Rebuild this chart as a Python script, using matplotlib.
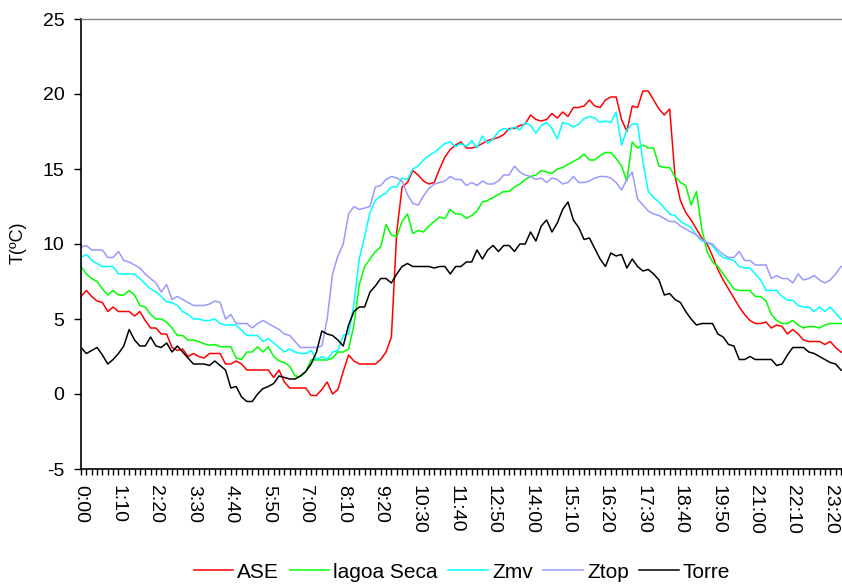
import numpy as np
import matplotlib
matplotlib.use("Agg")
import matplotlib.pyplot as plt
from matplotlib.ticker import FixedLocator, MultipleLocator

plt.rcParams['font.family'] = ['Liberation Sans', 'DejaVu Sans']

# ---- data (10-minute readings, 0:00 .. 23:50) ----
ase = [6.5, 6.9, 6.5, 6.2, 6.1, 5.5, 5.8, 5.5, 5.5, 5.5,
       5.2, 5.5, 4.9, 4.4, 4.4, 4.0, 4.0, 3.1, 2.9, 3.0,
       2.5, 2.7, 2.5, 2.4, 2.7, 2.7, 2.7, 2.0, 2.0, 2.2,
       2.0, 1.6, 1.6, 1.6, 1.6, 1.6, 1.1, 1.6, 0.8, 0.4,
       0.4, 0.4, 0.4, -0.1, -0.1, 0.3, 0.8, 0.0, 0.3, 1.5,
       2.6, 2.2, 2.0, 2.0, 2.0, 2.0, 2.3, 2.8, 3.8, 10.8,
       13.8, 14.1, 14.9, 14.6, 14.2, 14.0, 14.1, 15.0, 15.8, 16.3,
       16.6, 16.8, 16.4, 16.4, 16.5, 16.7, 16.9, 17.0, 17.1, 17.3,
       17.7, 17.7, 17.9, 18.0, 18.6, 18.3, 18.2, 18.3, 18.7, 18.4,
       18.8, 18.5, 19.1, 19.1, 19.2, 19.6, 19.2, 19.1, 19.6, 19.8,
       19.8, 18.3, 17.5, 19.2, 19.1, 20.2, 20.2, 19.6, 19.0, 18.6,
       19.0, 14.5, 12.9, 12.1, 11.6, 11.0, 10.4, 10.0, 9.2, 8.3,
       7.6, 7.0, 6.4, 5.8, 5.3, 4.9, 4.7, 4.7, 4.8, 4.4,
       4.6, 4.5, 4.0, 4.3, 4.0, 3.6, 3.5, 3.5, 3.5, 3.3,
       3.5, 3.1, 2.8, 2.7]

lagoa_seca = [8.5, 8.0, 7.7, 7.5, 7.0, 6.6, 6.9, 6.6, 6.6, 6.9,
              6.6, 5.9, 5.8, 5.3, 5.0, 5.0, 4.8, 4.4, 3.9, 3.9,
              3.6, 3.6, 3.5, 3.35, 3.25, 3.3, 3.15, 3.15, 3.15, 2.4,
              2.3, 2.8, 2.8, 3.15, 2.8, 3.15, 2.5, 2.2, 2.1, 1.85,
              1.2, 1.16, 1.5, 2.27, 2.27, 2.27, 2.27, 2.4, 2.8, 2.8,
              3.0, 4.6, 7.3, 8.5, 9.0, 9.5, 9.8, 11.3, 10.6, 10.5,
              11.5, 12.0, 10.7, 10.9, 10.8, 11.2, 11.5, 11.8, 11.7, 12.3,
              12.0, 12.0, 11.7, 11.9, 12.2, 12.8, 12.9, 13.1, 13.3, 13.5,
              13.5, 13.8, 14.0, 14.3, 14.5, 14.6, 14.9, 14.8, 14.7, 15.0,
              15.1, 15.3, 15.5, 15.7, 16.0, 15.6, 15.6, 15.9, 16.1, 16.1,
              15.7, 15.2, 14.2, 16.8, 16.4, 16.6, 16.4, 16.4, 15.2, 15.1,
              15.1, 14.5, 14.1, 13.9, 12.6, 13.5, 11.0, 9.5, 8.8, 8.5,
              8.0, 7.5, 7.0, 6.9, 6.9, 6.9, 6.5, 6.5, 6.2, 5.3,
              4.9, 4.7, 4.7, 4.9, 4.6, 4.4, 4.5, 4.5, 4.4, 4.6,
              4.7, 4.7, 4.7, 4.7]

zmv = [9.1, 9.3, 8.9, 8.7, 8.5, 8.5, 8.5, 8.0, 8.0, 8.0,
       8.0, 7.7, 7.35, 7.0, 6.8, 6.5, 6.13, 6.1, 5.9, 5.5,
       5.3, 5.0, 5.0, 4.9, 4.9, 5.0, 4.7, 4.6, 4.6, 4.6,
       4.25, 3.9, 3.9, 3.9, 3.5, 3.7, 3.4, 3.1, 2.8, 3.0,
       2.8, 2.7, 2.7, 2.9, 2.3, 2.5, 2.3, 2.8, 2.9, 3.9,
       4.0, 6.0, 9.0, 10.5, 12.1, 12.9, 13.2, 13.4, 13.8, 13.8,
       14.4, 14.3, 15.0, 15.2, 15.6, 15.9, 16.1, 16.4, 16.7, 16.8,
       16.5, 16.7, 16.5, 16.9, 16.4, 17.2, 16.7, 17.0, 17.5, 17.7,
       17.6, 17.8, 17.6, 18.1, 17.9, 17.4, 17.9, 18.1, 17.7, 17.0,
       18.1, 18.0, 17.8, 18.0, 18.35, 18.5, 18.4, 18.1, 18.2, 18.1,
       18.8, 16.6, 17.6, 18.0, 18.0, 15.5, 13.5, 13.1, 12.8, 12.4,
       12.0, 11.9, 11.5, 11.3, 11.1, 10.6, 10.2, 10.1, 9.9, 9.4,
       9.1, 9.0, 8.9, 8.5, 8.4, 8.4, 8.0, 7.6, 6.9, 6.9,
       6.9, 6.5, 6.25, 6.25, 5.9, 5.8, 5.8, 5.5, 5.8, 5.5,
       5.8, 5.4, 5.0, 4.9]

ztop = [9.8, 9.9, 9.6, 9.6, 9.6, 9.1, 9.1, 9.5, 8.9, 8.8,
        8.6, 8.4, 8.0, 7.7, 7.4, 6.8, 7.3, 6.3, 6.5, 6.3,
        6.1, 5.9, 5.9, 5.9, 6.0, 6.2, 6.1, 5.0, 5.3, 4.7,
        4.7, 4.7, 4.4, 4.7, 4.9, 4.7, 4.5, 4.3, 4.0, 3.9,
        3.5, 3.1, 3.1, 3.1, 3.1, 3.2, 5.0, 8.0, 9.2, 10.0,
        12.0, 12.5, 12.3, 12.4, 12.5, 13.8, 13.9, 14.3, 14.5, 14.4,
        14.2, 13.3, 12.7, 12.6, 13.2, 13.7, 14.0, 14.1, 14.2, 14.5,
        14.3, 14.3, 13.9, 14.1, 13.9, 14.2, 14.0, 14.0, 14.2, 14.6,
        14.6, 15.2, 14.8, 14.6, 14.5, 14.3, 14.4, 14.1, 14.4, 14.3,
        14.0, 14.1, 14.5, 14.1, 14.1, 14.2, 14.4, 14.5, 14.5, 14.4,
        14.1, 13.6, 14.3, 14.8, 13.0, 12.6, 12.2, 12.0, 11.9, 11.7,
        11.5, 11.5, 11.2, 11.0, 10.8, 10.6, 10.3, 10.1, 10.0, 9.6,
        9.3, 9.1, 9.1, 9.5, 8.9, 8.9, 8.6, 8.6, 8.6, 7.7,
        7.9, 7.7, 7.7, 7.4, 8.0, 7.6, 7.7, 7.9, 7.6, 7.4,
        7.6, 8.0, 8.5, 8.5]

torre = [3.1, 2.7, 2.9, 3.1, 2.6, 2.0, 2.3, 2.7, 3.2, 4.3,
         3.6, 3.2, 3.2, 3.8, 3.2, 3.1, 3.4, 2.8, 3.2, 2.8,
         2.4, 2.0, 2.0, 2.0, 1.9, 2.2, 1.9, 1.6, 0.4, 0.5,
         -0.2, -0.5, -0.5, 0.0, 0.36, 0.5, 0.7, 1.2, 1.1, 1.0,
         1.0, 1.2, 1.5, 2.0, 2.8, 4.2, 4.0, 3.9, 3.6, 3.2,
         4.6, 5.5, 5.8, 5.8, 6.8, 7.2, 7.7, 7.7, 7.4, 8.0,
         8.5, 8.7, 8.5, 8.5, 8.5, 8.5, 8.4, 8.5, 8.5, 8.0,
         8.5, 8.5, 8.8, 8.8, 9.6, 9.0, 9.6, 9.9, 9.5, 9.9,
         9.9, 9.5, 10.0, 10.0, 10.8, 10.2, 11.2, 11.6, 10.8, 11.4,
         12.3, 12.8, 11.6, 11.1, 10.3, 10.4, 9.7, 9.0, 8.5, 9.4,
         9.2, 9.3, 8.4, 9.0, 8.5, 8.2, 8.3, 8.0, 7.6, 6.6,
         6.7, 6.3, 6.1, 5.5, 5.0, 4.6, 4.7, 4.7, 4.7, 4.0,
         3.8, 3.3, 3.2, 2.3, 2.3, 2.5, 2.3, 2.3, 2.3, 2.3,
         1.9, 2.0, 2.6, 3.1, 3.1, 3.1, 2.8, 2.7, 2.5, 2.3,
         2.1, 2.0, 1.6, 1.5]

series_names = ['ASE', 'lagoa Seca', 'Zmv', 'Ztop', 'Torre']
tick_labels = ['0:00', '1:10', '2:20', '3:30', '4:40', '5:50', '7:00',
               '8:10', '9:20', '10:30', '11:40', '12:50', '14:00', '15:10',
               '16:20', '17:30', '18:40', '19:50', '21:00', '22:10', '23:20']
y_ticks = [-5, 0, 5, 10, 15, 20, 25]

# ---- figure ----
W, H = 842, 584
fig = plt.figure(figsize=(W / 100, H / 100), dpi=100)
ax = fig.add_axes([81 / W, 1 - 469 / H, 1 - 81 / W, (469 - 19) / H])

colors = ['#FF0000', '#00FF00', '#00FFFF', '#9999FF', '#000000']
all_series = [ase, lagoa_seca, zmv, ztop, torre]
x = np.arange(len(ase))
handles = []
for s, c, n in zip(all_series, colors, series_names):
    h, = ax.plot(x, s, color=c, lw=1.1, label=n)
    handles.append(h)

ax.set_xlim(0, 142.2)
ax.set_ylim(-5, 25)
ax.set_yticks(y_ticks)
ax.set_yticklabels([str(v) for v in y_ticks])

step = 7
ax.xaxis.set_major_locator(FixedLocator(np.arange(0, len(tick_labels) * step, step)))
ax.set_xticklabels(tick_labels, rotation=-90, va='top', ha='center')
ax.xaxis.set_minor_locator(MultipleLocator(1))

ax.tick_params(axis='y', direction='out', length=5, width=1, labelsize=14, pad=7)
ax.tick_params(axis='x', which='both', direction='out', length=4.5, width=1,
               labelsize=14, pad=7)

for side in ['left', 'bottom']:
    ax.spines[side].set_color('black')
    ax.spines[side].set_linewidth(1.2)
ax.spines['top'].set_color('#808080')
ax.spines['top'].set_linewidth(1.0)
ax.spines['right'].set_visible(False)

fig.text(18 / W, 1 - 243 / H, 'T(ºC)', rotation=90, ha='center', va='center',
         fontsize=13)

fig.legend(handles, series_names, loc='center', bbox_to_anchor=(462 / W, 1 - 572 / H),
           ncol=5, frameon=False, fontsize=15, handlelength=1.9,
           handletextpad=0.2, columnspacing=0.5, borderaxespad=0)

fig.savefig('out.png', dpi=100)
